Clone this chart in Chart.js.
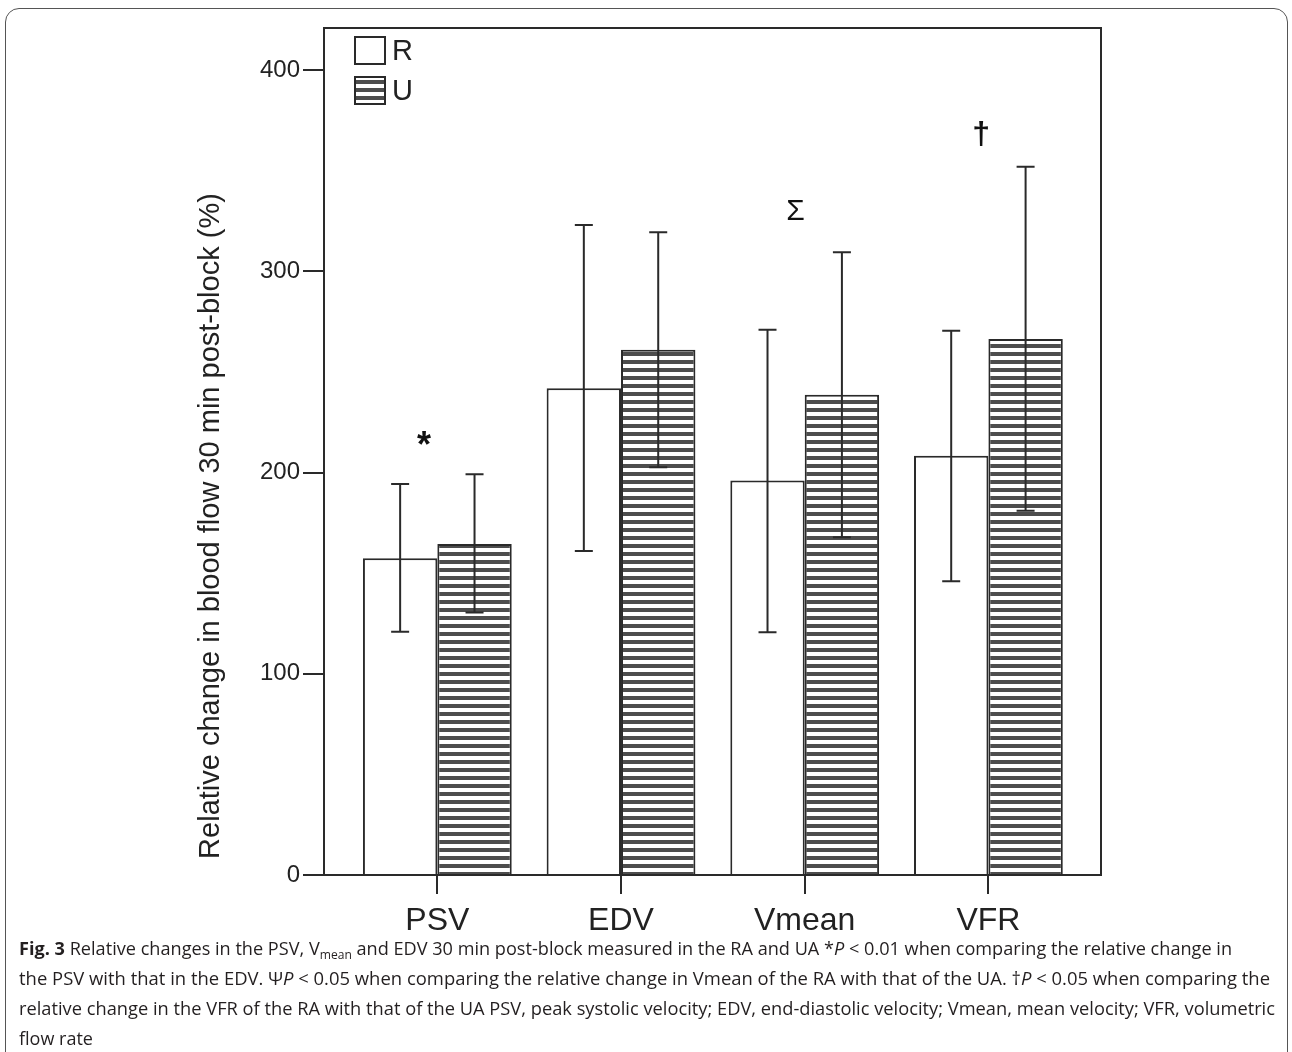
<!DOCTYPE html>
<html>
<head>
<meta charset="utf-8">
<script src="https://cdn.jsdelivr.net/npm/chart.js@4.4.1/dist/chart.umd.min.js"></script>
<style>
    html, body { margin: 0; padding: 0; background: #fff; }
    body { width: 1292px; height: 1052px; position: relative; overflow: hidden; }
    #frame {
        position: absolute; left: 5px; top: 8px; width: 1283px; height: 1100px;
        border: 1.5px solid #555; border-radius: 14px; box-sizing: border-box;
    }
    #chart-wrap { position: absolute; left: 0; top: 0; width: 1292px; height: 935px; }
    #caption {
        position: absolute; left: 19px; top: 933px;
        font-family: 'Open Sans', 'Noto Sans', sans-serif; font-size: 18px; color: #231f20;
    }
    #caption .ln { white-space: nowrap; line-height: 30px; height: 30px; transform-origin: 0 50%; width: max-content; }
    #caption b { font-weight: 700; }
    #caption sub { font-size: 12px; vertical-align: -4px; line-height: 0; }
</style>
</head>
<body>
<div id="frame"></div>
<div id="chart-wrap"><canvas id="chart-flow" width="1292" height="935"></canvas></div>
<div id="caption">
    <div class="ln" data-w="1213"><b>Fig. 3</b> Relative changes in the PSV, V<sub>mean</sub> and EDV 30 min post-block measured in the RA and UA *<i>P</i> &lt; 0.01 when comparing the relative change in</div>
    <div class="ln" data-w="1251">the PSV with that in the EDV. Ψ<i>P</i> &lt; 0.05 when comparing the relative change in Vmean of the RA with that of the UA. †<i>P</i> &lt; 0.05 when comparing the</div>
    <div class="ln" data-w="1256">relative change in the VFR of the RA with that of the UA PSV, peak systolic velocity; EDV, end-diastolic velocity; Vmean, mean velocity; VFR, volumetric</div>
    <div class="ln">flow rate</div>
</div>
<script>
// Relative change in blood flow, R vs U, with SD-style error bars
const categories = ['PSV', 'EDV', 'Vmean', 'VFR'];
const seriesLabels = ['R', 'U'];

const rMean = [157.4, 241.9, 196.0, 208.3];
const rHigh = [194.3, 323.0, 270.9, 270.4];
const rLow = [120.9, 161.0, 120.6, 146.0];

const uMean = [164.5, 261.0, 238.6, 266.3];
const uHigh = [199.1, 319.4, 309.5, 352.0];
const uLow = [130.4, 202.6, 167.8, 181.0];

// significance marks: [symbol, category position, value]
const markSymbols = ['*', 'Σ', '†'];
const markX = [0.928, 2.95, 3.96];
const markY = [216.6, 329.7, 367.7];

const yTicks = [0, 100, 200, 300, 400];

const INK = '#2a2a2a';
const FONT = "'Liberation Sans', Arial, sans-serif";

function hatchPattern() {
    const tile = document.createElement('canvas');
    tile.width = 8;
    tile.height = 8;
    const t = tile.getContext('2d');
    t.fillStyle = '#ffffff';
    t.fillRect(0, 0, 8, 8);
    t.fillStyle = '#4d4d4d';
    t.fillRect(0, 0, 8, 4);
    return t.createPattern(tile, 'repeat');
}

const toPoints = vals => vals.map((v, i) => ({ x: i + 1, y: v }));

const errorBarPlugin = {
    id: 'errorBars',
    afterDatasetsDraw(chart) {
        const { ctx: c, scales } = chart;
        c.save();
        c.strokeStyle = INK;
        c.lineWidth = 2;
        chart.data.datasets.forEach((ds, di) => {
            const meta = chart.getDatasetMeta(di);
            meta.data.forEach((bar, i) => {
                const top = scales.y.getPixelForValue(ds.errHigh[i]);
                const bot = scales.y.getPixelForValue(ds.errLow[i]);
                const half = 9;
                c.beginPath();
                c.moveTo(bar.x, top);
                c.lineTo(bar.x, bot);
                c.moveTo(bar.x - half, top);
                c.lineTo(bar.x + half, top);
                c.moveTo(bar.x - half, bot);
                c.lineTo(bar.x + half, bot);
                c.stroke();
            });
        });
        c.restore();
    },
};

const framePlugin = {
    id: 'plotFrame',
    afterDraw(chart) {
        const { ctx: c, chartArea: a } = chart;
        c.save();
        c.strokeStyle = INK;
        c.lineWidth = 2;
        c.beginPath();
        c.moveTo(a.left, a.top);
        c.lineTo(a.right, a.top);
        c.lineTo(a.right, a.bottom);
        c.stroke();
        c.restore();
    },
};

const marksPlugin = {
    id: 'sigMarks',
    afterDraw(chart) {
        const { ctx: c, scales } = chart;
        c.save();
        c.fillStyle = '#111';
        c.textAlign = 'center';
        c.textBaseline = 'middle';
        const fonts = ['bold 36px ' + FONT, '30px ' + FONT, 'bold 32px ' + FONT];
        markSymbols.forEach((s, i) => {
            c.font = fonts[i];
            const px = scales.x.getPixelForValue(markX[i]);
            const py = scales.y.getPixelForValue(markY[i]);
            c.fillText(s, px, py + (i === 0 ? 8 : 0));
        });
        c.restore();
    },
};

const boxLegendPlugin = {
    id: 'boxLegend',
    afterDraw(chart) {
        const { ctx: c, chartArea: a } = chart;
        c.save();
        c.font = '29px ' + FONT;
        c.textBaseline = 'middle';
        chart.data.datasets.forEach((ds, i) => {
            const bx = a.left + 31;
            const by = a.top + 9 + i * 40;
            c.fillStyle = ds.backgroundColor;
            c.fillRect(bx, by, 30, 27);
            c.strokeStyle = INK;
            c.lineWidth = 2;
            c.strokeRect(bx, by, 30, 27);
            c.fillStyle = '#222';
            c.fillText(ds.label, bx + 37, by + 15);
        });
        c.restore();
    },
};

function createFlowChart() {
    const canvas = document.getElementById('chart-flow');
    if (!canvas) return;
    const ctx = canvas.getContext('2d');

    const datasets = [
        {
            label: seriesLabels[0],
            data: toPoints(rMean),
            errHigh: rHigh,
            errLow: rLow,
            backgroundColor: '#ffffff',
            borderColor: INK,
            borderWidth: 2,
        },
        {
            label: seriesLabels[1],
            data: toPoints(uMean),
            errHigh: uHigh,
            errLow: uLow,
            backgroundColor: hatchPattern(),
            borderColor: INK,
            borderWidth: 2,
        },
    ];

    new Chart(ctx, {
        type: 'bar',
        data: { datasets },
        plugins: [errorBarPlugin, framePlugin, marksPlugin, boxLegendPlugin],
        options: {
            responsive: false,
            animation: false,
            categoryPercentage: 0.81,
            barPercentage: 1,
            layout: { padding: { top: 28, right: 191, bottom: 0, left: 0 } },
            plugins: { legend: { display: false }, tooltip: { enabled: false } },
            scales: {
                x: {
                    type: 'linear',
                    offset: false,
                    min: 0.383,
                    max: 4.613,
                    afterBuildTicks: s => { s.ticks = categories.map((_, i) => ({ value: i + 1 })); },
                    afterFit: s => { s.height = 60; },
                    grid: { offset: false, drawOnChartArea: false, drawTicks: true, tickLength: 19, color: INK, lineWidth: 2 },
                    border: { display: true, color: INK, width: 2 },
                    ticks: {
                        autoSkip: false,
                        maxRotation: 0,
                        padding: 8,
                        color: '#222',
                        font: { family: FONT, size: 32 },
                        callback: v => categories[Math.round(v) - 1] ?? '',
                    },
                },
                y: {
                    min: 0,
                    max: 420.9,
                    afterBuildTicks: s => { s.ticks = yTicks.map(v => ({ value: v })); },
                    afterFit: s => { s.width = 324; },
                    grid: { drawOnChartArea: false, drawTicks: true, tickLength: 21, color: INK, lineWidth: 2 },
                    border: { display: true, color: INK, width: 2 },
                    ticks: { padding: 3, color: '#222', font: { family: FONT, size: 24 } },
                    title: {
                        display: true,
                        align: 'start',
                        text: '  Relative change in blood flow 30 min post-block (%)',
                        color: '#222',
                        font: { family: FONT, size: 29 },
                        padding: { top: 194, bottom: 0 },
                    },
                },
            },
        },
    });
}

createFlowChart();

// squeeze each caption line to the condensed width of the original
document.querySelectorAll('#caption .ln[data-w]').forEach(el => {
    const w = el.getBoundingClientRect().width;
    const target = +el.dataset.w;
    el.style.transform = `scaleX(${target / w})`;
});
</script>
</body>
</html>
